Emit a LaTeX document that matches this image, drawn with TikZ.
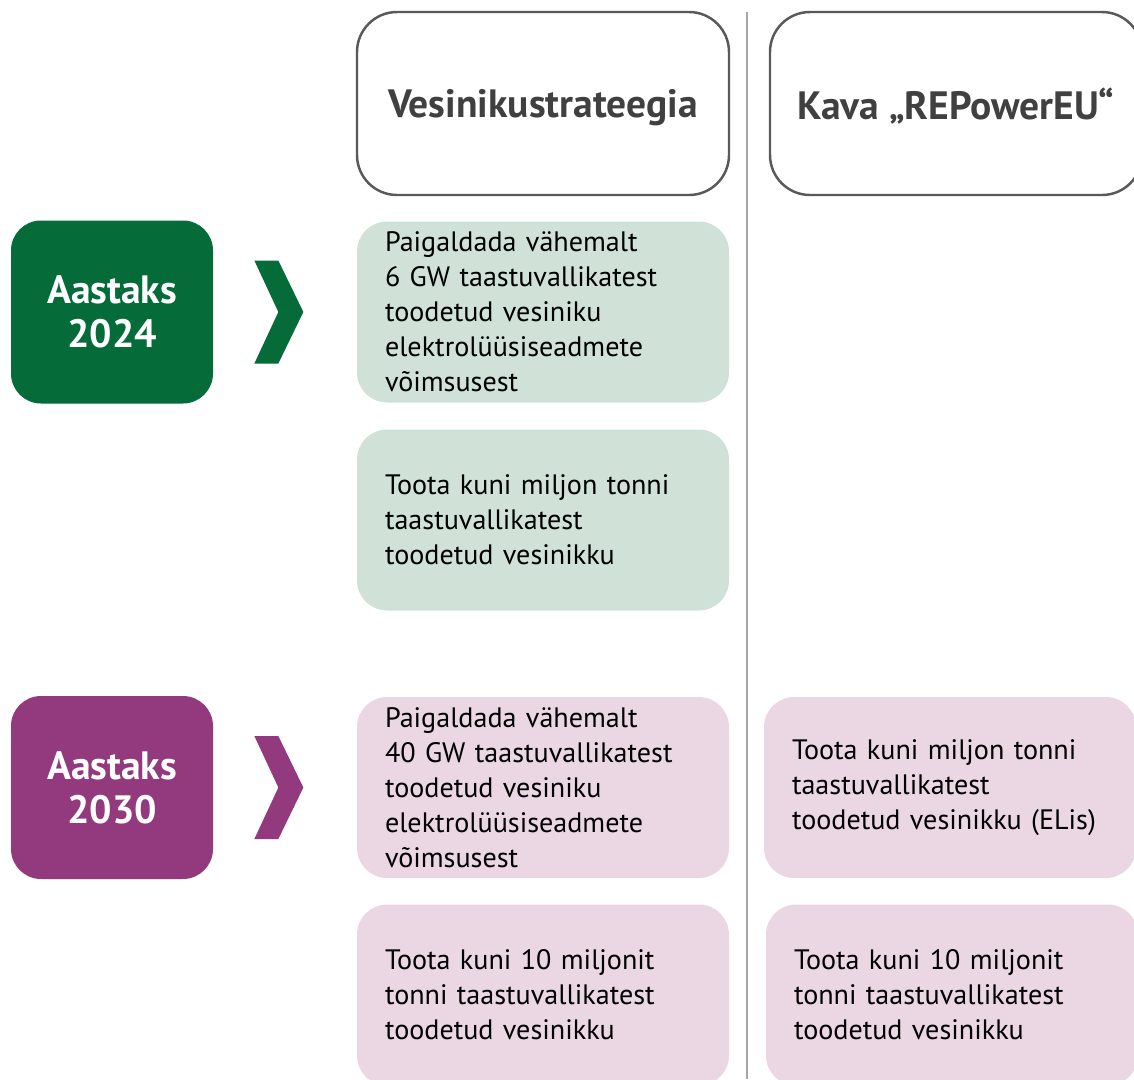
\documentclass[tikz,border=0pt]{standalone}
\usepackage{fontspec}
\setmainfont{PT Sans}
\usepackage{tikz}
\usetikzlibrary{positioning}

\definecolor{yeargreen}{HTML}{046B39}
\definecolor{yearpurple}{HTML}{93397D}
\definecolor{goalgreen}{HTML}{D0E2D8}
\definecolor{goalpink}{HTML}{EBD7E3}
\definecolor{headgray}{HTML}{595959}
\definecolor{headtext}{HTML}{404040}
\definecolor{divgray}{HTML}{A6A6A6}

\tikzset{
  head/.style={draw=headgray, line width=1.4pt, rounded corners=0.8cm, minimum width=7.44cm, minimum height=3.66cm, text depth=0pt, text=headtext, font=\fontsize{22.5}{26}\selectfont\bfseries},
  year/.style={rounded corners=0.6cm, minimum width=4.04cm, minimum height=3.66cm, text=white, align=center, font=\fontsize{22.5}{25}\selectfont\bfseries},
  goal/.style={rounded corners=0.6cm, minimum height=3.62cm, text width=6.32cm, inner xsep=0.56cm, align=left, font=\fontsize{16}{19.9}\selectfont},
}

\begin{document}
\begin{tikzpicture}[node distance=4.17cm]
        \useasboundingbox (0,0) rectangle (22.68,-21.58);

        % Column heads
        \node[head] (strat) at (10.86,-2.07) {Vesinikustrateegia};
        \node[head, right of=strat, node distance=8.26cm] (repower) {Kava „REPowerEU“};

        % Column divider
        \coordinate (divtop) at (14.94,-0.24);
        \coordinate (divbot) at (14.94,-21.58);
        \draw[divgray, line width=0.85pt] (divtop) -- (divbot);

        % 2024 targets
        \node[goal, fill=goalgreen, below of=strat] (s24a) {Paigaldada vähemalt\\6 GW taastuvallikatest\\toodetud vesiniku\\elektrolüüsiseadmete\\võimsusest};
        \node[goal, fill=goalgreen, below of=s24a, node distance=4.16cm] (s24b) {Toota kuni miljon tonni\\taastuvallikatest\\toodetud vesinikku};

        % 2030 targets
        \node[goal, fill=goalpink, below of=s24b, node distance=5.35cm] (s30a) {Paigaldada vähemalt\\40 GW taastuvallikatest\\toodetud vesiniku\\elektrolüüsiseadmete\\võimsusest};
        \node[goal, fill=goalpink, below of=s30a, node distance=4.15cm] (s30b) {Toota kuni 10 miljonit\\tonni taastuvallikatest\\toodetud vesinikku};
        \node[goal, fill=goalpink, right of=s30a, node distance=8.14cm] (r30a) {Toota kuni miljon tonni\\taastuvallikatest\\toodetud vesinikku (ELis)};
        \node[goal, fill=goalpink, right of=s30b, node distance=8.18cm] (r30b) {Toota kuni 10 miljonit\\tonni taastuvallikatest\\toodetud vesinikku};

        % Years
        \node[year, fill=yeargreen, left of=s24a, node distance=8.62cm] (y24) {Aastaks\\2024};
        \node[year, fill=yearpurple, left of=s30a, node distance=8.62cm] (y30) {Aastaks\\2030};

        % Chevrons
        \fill[yeargreen, shift={(y24.east)}] (0.82,1.03) -- (1.30,1.03) -- (1.80,0) -- (1.30,-1.03) -- (0.82,-1.03) -- (1.30,0) -- cycle;
        \fill[yearpurple, shift={(y30.east)}] (0.82,1.03) -- (1.30,1.03) -- (1.80,0) -- (1.30,-1.03) -- (0.82,-1.03) -- (1.30,0) -- cycle;
\end{tikzpicture}
\end{document}
